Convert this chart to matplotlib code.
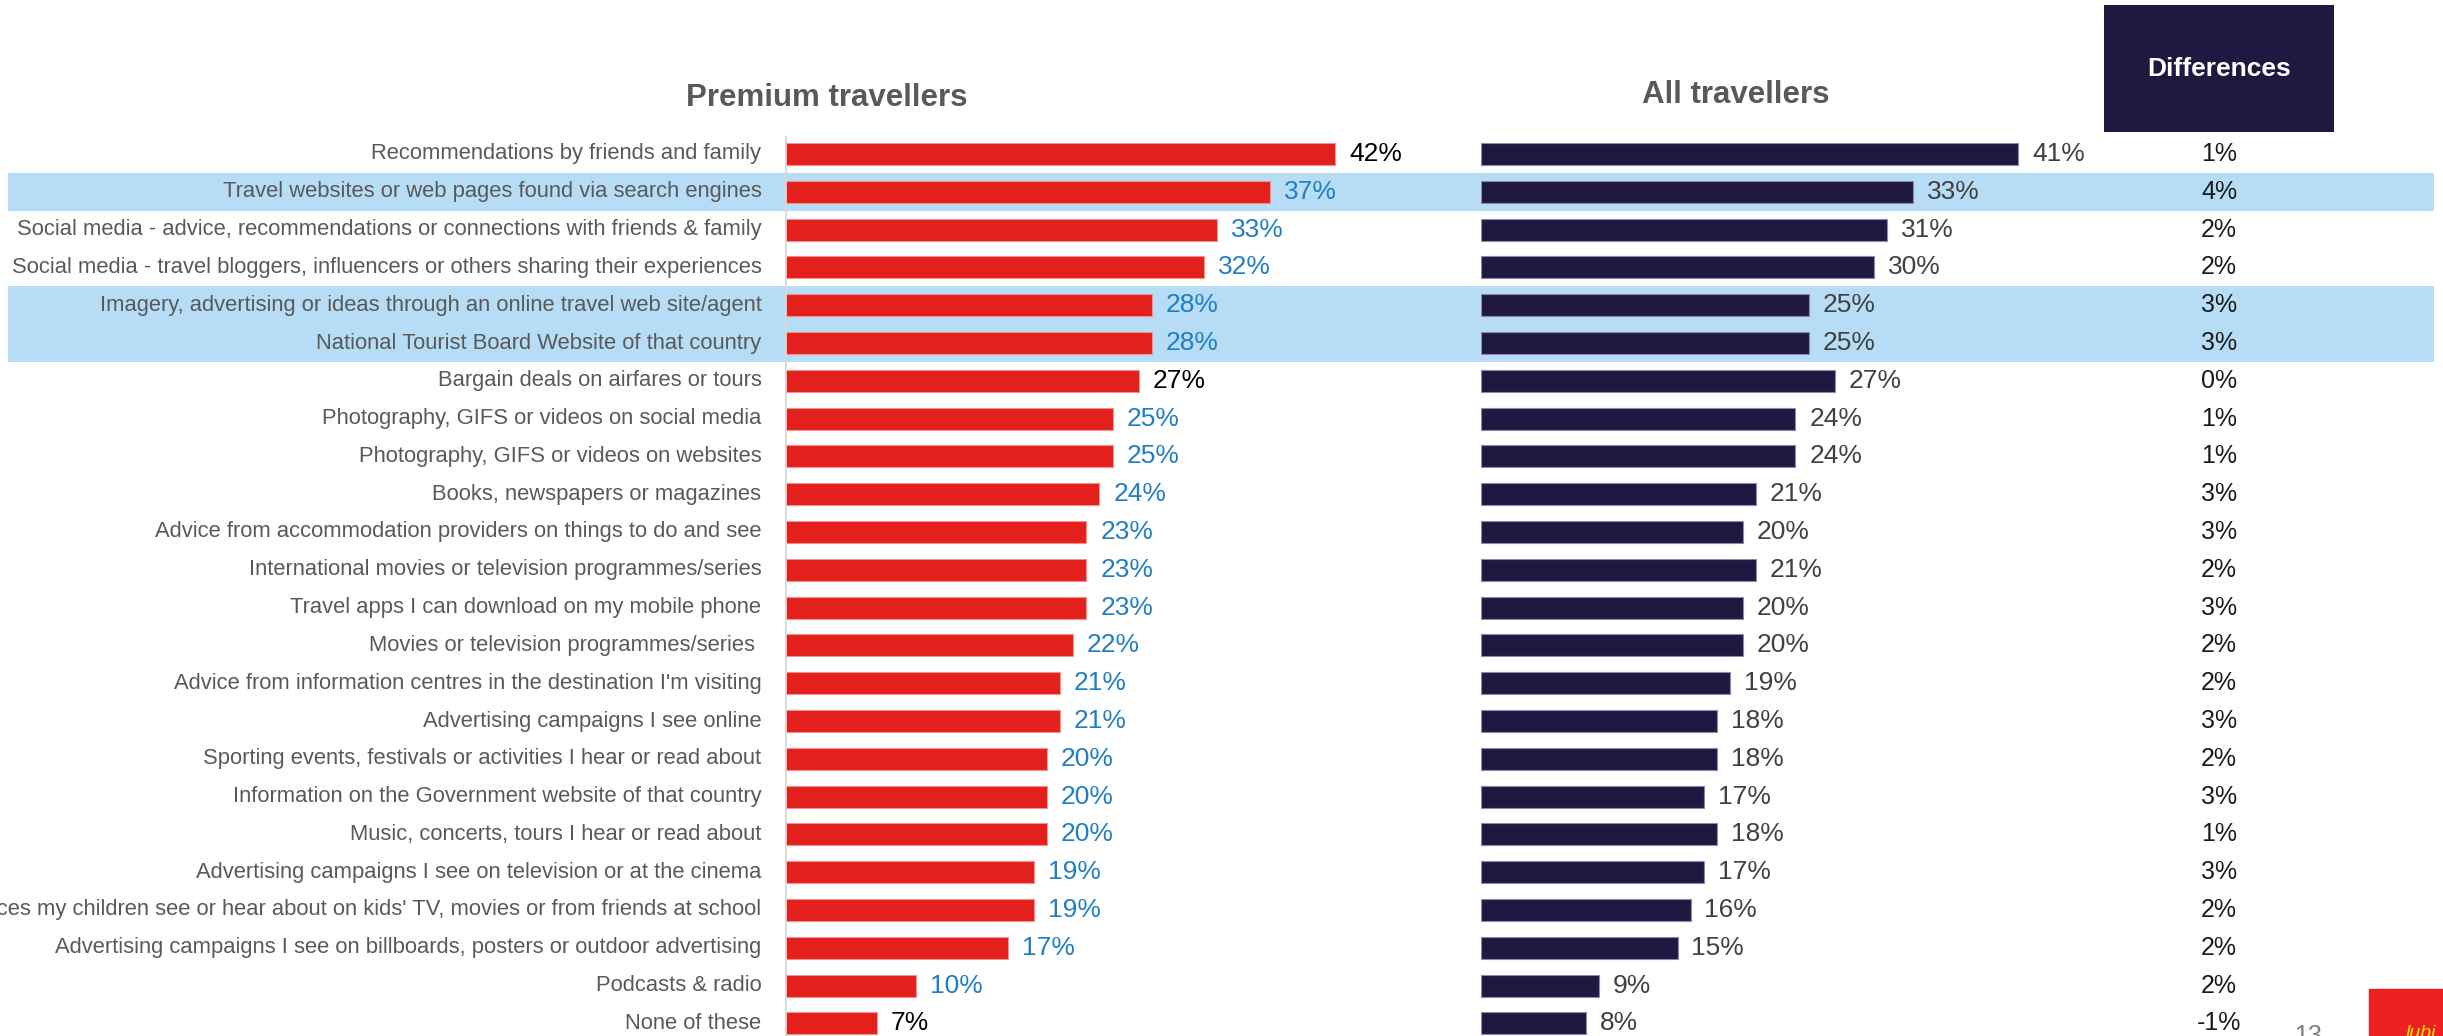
import matplotlib
matplotlib.use("Agg")
import matplotlib.pyplot as plt
from matplotlib import font_manager

plt.rcParams['font.family'] = ['Liberation Sans', 'DejaVu Sans']

# data
sources = [
    "Recommendations by friends and family",
    "Travel websites or web pages found via search engines",
    "Social media - advice, recommendations or connections with friends & family",
    "Social media - travel bloggers, influencers or others sharing their experiences",
    "Imagery, advertising or ideas through an online travel web site/agent",
    "National Tourist Board Website of that country",
    "Bargain deals on airfares or tours",
    "Photography, GIFS or videos on social media",
    "Photography, GIFS or videos on websites",
    "Books, newspapers or magazines",
    "Advice from accommodation providers on things to do and see",
    "International movies or television programmes/series",
    "Travel apps I can download on my mobile phone",
    "Movies or television programmes/series ",
    "Advice from information centres in the destination I'm visiting",
    "Advertising campaigns I see online",
    "Sporting events, festivals or activities I hear or read about",
    "Information on the Government website of that country",
    "Music, concerts, tours I hear or read about",
    "Advertising campaigns I see on television or at the cinema",
    "Places my children see or hear about on kids' TV, movies or from friends at school",
    "Advertising campaigns I see on billboards, posters or outdoor advertising",
    "Podcasts & radio",
    "None of these",
]
premium = [42, 37, 33, 32, 28, 28, 27, 25, 25, 24, 23, 23, 23, 22, 21, 21, 20, 20, 20, 19, 19, 17, 10, 7]
all_travellers = [41, 33, 31, 30, 25, 25, 27, 24, 24, 21, 20, 21, 20, 20, 19, 18, 18, 17, 18, 17, 16, 15, 9, 8]
differences = [1, 4, 2, 2, 3, 3, 0, 1, 1, 3, 3, 2, 3, 2, 2, 3, 2, 3, 1, 3, 2, 2, 2, -1]
# premium values shown in blue (significantly higher)
significant = [False] + [True] * 5 + [False] + [True] * 16 + [False]
# highlighted row groups (first, last)
highlight_groups = [(1, 1), (4, 5)]

# layout in pixels of the 2443x1036 slide
W, H = 2443, 1036
ROW0, ROW_STEP = 154, 37.8
PX_PER_PCT = 13.1
RED = '#e3201b'
NAVY = '#1f1841'
BLUE = '#1f7ec4'
BAND = '#b7dcf5'
GREY_TXT = '#595959'

# the slide's row labels are a bit condensed; use the narrow face if we have it
installed = {f.name for f in font_manager.fontManager.ttflist}
if 'Liberation Sans Narrow' in installed:
    LABEL_FONT, LABEL_SIZE = ['Liberation Sans Narrow', 'DejaVu Sans'], 19.2
else:
    LABEL_FONT, LABEL_SIZE = ['Liberation Sans', 'DejaVu Sans'], 15.8

rows = list(range(len(sources)))
ylim = ((H - ROW0) / ROW_STEP, -ROW0 / ROW_STEP)

fig = plt.figure(figsize=(W / 100, H / 100), dpi=100)

# background bands
bg = fig.add_axes([0, 0, 1, 1], zorder=0)
bg.set_xlim(0, 1)
bg.set_ylim(*ylim)
bg.axis('off')
for first, last in highlight_groups:
    bg.axhspan(first - 0.5, last + 0.5, xmin=8 / W, xmax=2434 / W, color=BAND, lw=0)

def bar_axes(left_px, width_px):
    ax = fig.add_axes([left_px / W, 0, width_px / W, 1], zorder=1)
    ax.patch.set_visible(False)
    ax.set_xlim(0, width_px / PX_PER_PCT)
    ax.set_ylim(*ylim)
    ax.axis('off')
    return ax

ax1 = bar_axes(785, 600)
ax2 = bar_axes(1481, 600)

ax1.vlines(0, -0.5, len(sources) - 0.5, color='#d9d9d9', lw=2)
ax1.barh(rows, premium, height=0.58, color=RED, edgecolor='#f0928e', linewidth=0.8)
ax2.barh(rows, all_travellers, height=0.58, color=NAVY, edgecolor='#8e88b0', linewidth=0.8)

for i, label in enumerate(sources):
    ax1.annotate(label, (0, i), xytext=(-17, 0), textcoords='offset points',
                 ha='right', va='center', fontsize=LABEL_SIZE, family=LABEL_FONT,
                 color=GREY_TXT, annotation_clip=False)
    ax1.annotate(f"{premium[i]}%", (premium[i], i), xytext=(10, 0), textcoords='offset points',
                 ha='left', va='center', fontsize=19, color=BLUE if significant[i] else 'black',
                 annotation_clip=False)
    ax2.annotate(f"{all_travellers[i]}%", (all_travellers[i], i), xytext=(10, 0),
                 textcoords='offset points', ha='left', va='center', fontsize=19,
                 color='#404040', annotation_clip=False)

# differences column
ax3 = fig.add_axes([2104 / W, 0, 230 / W, 1], zorder=1)
ax3.patch.set_visible(False)
ax3.set_xlim(0, 1)
ax3.set_ylim(*ylim)
ax3.axis('off')
ax3.axhspan((5 - ROW0) / ROW_STEP, (132 - ROW0) / ROW_STEP, color=NAVY, lw=0)
ax3.text(0.5, (69 - ROW0) / ROW_STEP, "Differences", ha='center', va='center',
         fontsize=19, fontweight='bold', color='white')
for i, d in enumerate(differences):
    ax3.text(0.5, i, f"{d}%", ha='center', va='center', fontsize=18, color='#1a1a1a')

# panel titles
fig.text(827 / W, 1 - 98 / H, "Premium travellers", ha='center', va='center',
         fontsize=22.5, fontweight='bold', color=GREY_TXT)
fig.text(1736 / W, 1 - 95 / H, "All travellers", ha='center', va='center',
         fontsize=22.5, fontweight='bold', color=GREY_TXT)

# slide footer bits
fig.patches.append(plt.Rectangle((2369 / W, 0), 74 / W, 47 / H, transform=fig.transFigure,
                                 color='#ed2024', zorder=2))
fig.text(2406 / W, -6 / H, "lubi", ha='left', va='bottom', fontsize=14, color='#ffe600',
         style='italic', zorder=3)
fig.text(2308 / W, 1 - 1024 / H, "13", ha='center', va='top', fontsize=18, color='#7f7f7f')

fig.savefig("out.png", dpi=100)
